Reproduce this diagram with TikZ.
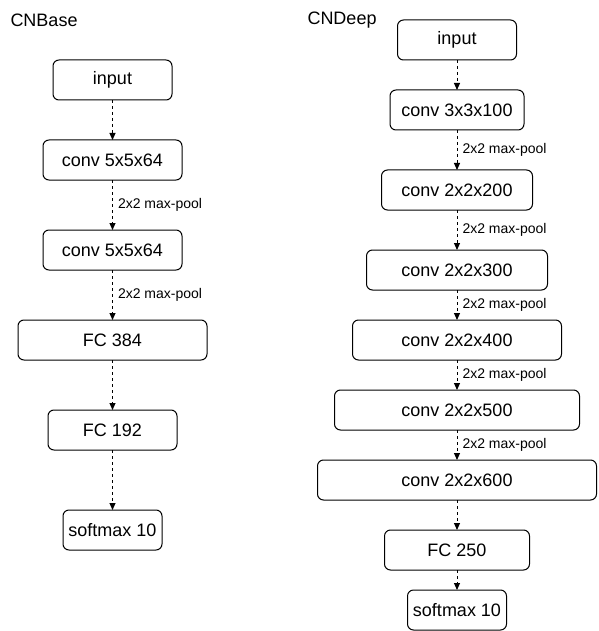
\documentclass[tikz,border=0pt]{standalone}
\usepackage{fontspec}
\setmainfont{Liberation Sans}
\usetikzlibrary{arrows.meta,positioning}

\begin{document}
\begin{tikzpicture}[
    x=1pt, y=-1pt,
    line width=1pt,
    layer/.style={rectangle, rounded corners=6pt, draw, minimum height=40pt, inner sep=0pt, outer sep=0pt, font=\fontsize{18}{20}\selectfont},
    flow/.style={dash pattern=on 3pt off 3pt, -{Triangle[length=7pt,width=6pt]}},
    pool/.style={right, midway, xshift=3pt, inner sep=2pt, font=\fontsize{14}{16}\selectfont},
    title/.style={anchor=west, inner sep=0pt, font=\fontsize{18}{20}\selectfont}
]
    \useasboundingbox (0,0) rectangle (598,631);

    % CNBase
    \node[title] (basetitle) at (10,20) {CNBase};
    \node[layer, minimum width=119pt] (bin) at (112.5,80) {input};
    \node[layer, minimum width=139pt, below=40pt of bin] (bconv1) {conv 5x5x64};
    \node[layer, minimum width=139pt, below=50pt of bconv1] (bconv2) {conv 5x5x64};
    \node[layer, minimum width=189pt, below=50pt of bconv2] (bfc1) {FC 384};
    \node[layer, minimum width=129pt, below=50pt of bfc1] (bfc2) {FC 192};
    \node[layer, minimum width=99pt, below=60pt of bfc2] (bsoft) {softmax 10};

    \draw[flow] (bin) -- (bconv1);
    \draw[flow] (bconv1) -- node[pool] {2x2 max-pool} (bconv2);
    \draw[flow] (bconv2) -- node[pool] {2x2 max-pool} (bfc1);
    \draw[flow] (bfc1) -- (bfc2);
    \draw[flow] (bfc2) -- (bsoft);

    % CNDeep
    \node[title] (deeptitle) at (307,20) {CNDeep};
    \node[layer, minimum width=119pt] (din) at (457,40) {input};
    \node[layer, minimum width=134pt, below=30pt of din] (dconv1) {conv 3x3x100};
    \node[layer, minimum width=151pt, below=40pt of dconv1] (dconv2) {conv 2x2x200};
    \node[layer, minimum width=181pt, below=40pt of dconv2] (dconv3) {conv 2x2x300};
    \node[layer, minimum width=209pt, below=30pt of dconv3] (dconv4) {conv 2x2x400};
    \node[layer, minimum width=245pt, below=30pt of dconv4] (dconv5) {conv 2x2x500};
    \node[layer, minimum width=279pt, below=30pt of dconv5] (dconv6) {conv 2x2x600};
    \node[layer, minimum width=145pt, below=30pt of dconv6] (dfc) {FC 250};
    \node[layer, minimum width=99pt, below=20pt of dfc] (dsoft) {softmax 10};

    \draw[flow] (din) -- (dconv1);
    \draw[flow] (dconv1) -- node[pool] {2x2 max-pool} (dconv2);
    \draw[flow] (dconv2) -- node[pool] {2x2 max-pool} (dconv3);
    \draw[flow] (dconv3) -- node[pool] {2x2 max-pool} (dconv4);
    \draw[flow] (dconv4) -- node[pool] {2x2 max-pool} (dconv5);
    \draw[flow] (dconv5) -- node[pool] {2x2 max-pool} (dconv6);
    \draw[flow] (dconv6) -- (dfc);
    \draw[flow] (dfc) -- (dsoft);
\end{tikzpicture}
\end{document}
